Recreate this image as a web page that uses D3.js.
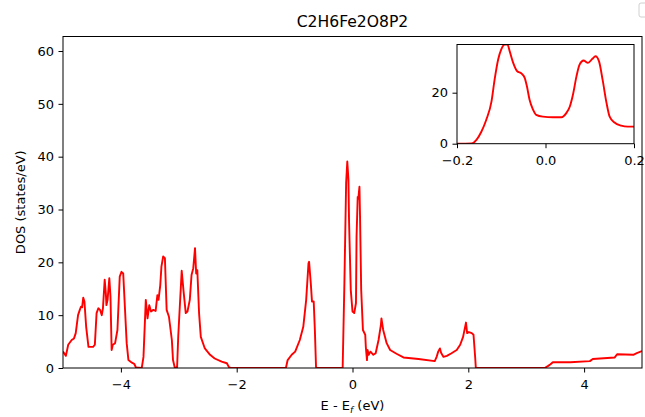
<!DOCTYPE html>
<html>
<head>
<meta charset="utf-8">
<script src="https://cdn.jsdelivr.net/npm/d3@7"></script>
<style>
    body { margin: 0; background: #fff; }
    svg { font-family: "DejaVu Sans", sans-serif; }
    .tick line { stroke: #000; }
    .domain { stroke: #000; }
</style>
</head>
<body>
<svg id="canvas"></svg>
<script>
// 全体DOS
const energy = [-5.00, -4.95, -4.91, -4.85, -4.81, -4.78, -4.74, -4.71, -4.69, -4.67, -4.65, -4.63, -4.60, -4.56, -4.48,
    -4.45, -4.42, -4.39, -4.36, -4.33, -4.31, -4.28, -4.26, -4.25, -4.23, -4.20, -4.18, -4.16, -4.14, -4.10,
    -4.06, -4.02, -3.99, -3.96, -3.94, -3.90, -3.87, -3.81, -3.77, -3.74, -3.64, -3.61, -3.57, -3.54, -3.51,
    -3.48, -3.44, -3.40, -3.37, -3.35, -3.32, -3.30, -3.27, -3.24, -3.21, -3.17, -3.12, -3.10, -3.07, -3.03,
    -3.01, -2.95, -2.92, -2.88, -2.85, -2.81, -2.78, -2.75, -2.72, -2.70, -2.68, -2.65, -2.62, -2.55, -2.46,
    -2.38, -2.26, -2.17, -2.13, -2.10, -1.15, -1.12, -1.05, -0.99, -0.91, -0.85, -0.80, -0.76, -0.75, -0.72,
    -0.70, -0.67, -0.65, -0.63, -0.62, -0.17, -0.14, -0.11, -0.09, -0.07, -0.06, -0.03, 0.00, 0.03, 0.06,
    0.07, 0.09, 0.10, 0.12, 0.13, 0.15, 0.18, 0.22, 0.23, 0.25, 0.26, 0.28, 0.31, 0.36, 0.40,
    0.45, 0.49, 0.50, 0.53, 0.59, 0.65, 0.76, 0.88, 1.14, 1.42, 1.45, 1.48, 1.51, 1.53, 1.57,
    1.63, 1.71, 1.80, 1.86, 1.91, 1.96, 1.98, 2.01, 2.06, 2.09, 2.12, 2.13, 3.32, 3.38, 3.42,
    3.46, 3.76, 4.10, 4.15, 4.53, 4.57, 4.85, 4.91, 5.00];
const dos = [3.1, 2.3, 4.4, 5.3, 5.6, 6.6, 10.0, 11.0, 11.6, 11.5, 13.3, 12.6, 7.8, 4.0, 4.0,
    4.4, 10.4, 11.3, 11.0, 10.0, 11.3, 16.7, 14.1, 11.9, 12.9, 17.0, 13.5, 3.4, 4.4, 4.7,
    7.2, 17.3, 18.2, 17.9, 13.5, 4.7, 1.5, 1.0, 0.8, 0.1, 0, 2.1, 12.9, 9.4, 11.9,
    10.7, 11.0, 10.8, 13.8, 12.9, 15.7, 19.2, 21.1, 20.8, 11.0, 9.7, 5.3, 1.5, 0.1, 0,
    5.9, 18.4, 14.8, 10.4, 10.7, 12.9, 17.6, 18.9, 22.7, 17.9, 18.5, 10.4, 5.9, 3.7, 2.5,
    1.8, 1.2, 0.9, 0.1, 0, 0, 1.5, 2.5, 3.1, 5.3, 7.8, 12.9, 19.8, 20.1, 16.0,
    12.6, 12.6, 7.2, 0.2, 0, 0, 16.0, 35.0, 39.1, 35.6, 28.0, 14.8, 10.7, 10.4, 12.3,
    24.9, 32.4, 32.0, 34.3, 28.7, 14.8, 7.2, 6.3, 4.0, 1.5, 3.4, 2.5, 3.1, 2.5, 2.8,
    5.3, 8.1, 9.4, 7.2, 4.7, 3.4, 2.7, 2.0, 1.7, 1.3, 2.0, 3.1, 3.7, 2.9, 2.1,
    2.3, 2.8, 3.4, 4.4, 5.9, 8.6, 6.6, 6.8, 6.6, 6.3, 1.8, 0, 0, 0.4, 0.7,
    1.1, 1.1, 1.3, 1.7, 2.0, 2.6, 2.5, 2.8, 3.2];

// フェルミ準位付近の拡大
const insetEnergy = [-0.200, -0.167, -0.156, -0.145, -0.134, -0.122, -0.115, -0.107, -0.100, -0.092, -0.086,
    -0.081, -0.073, -0.064, -0.054, -0.047, -0.042, -0.036, -0.028, -0.021, -0.006, 0.017, 0.036,
    0.047, 0.055, 0.062, 0.070, 0.077, 0.086, 0.096, 0.106, 0.113, 0.121, 0.129, 0.138, 0.145,
    0.156, 0.171, 0.186, 0.200];
const insetDos = [0, 0.1, 1.5, 4.7, 9.3, 16.6, 25.1, 33.0, 37.0, 38.9, 38.9,
    36.3, 31.7, 28.4, 27.5, 25.8, 22.5, 17.2, 13.3, 11.3, 10.6, 10.4, 10.4,
    12.0, 14.6, 19.2, 26.4, 31.0, 32.6, 31.7, 33.3, 34.3, 32.3, 25.1, 15.9, 10.6,
    8.3, 7.1, 6.7, 6.7];

const xTicks = [-4, -2, 0, 2, 4];
const yTicks = [0, 10, 20, 30, 40, 50, 60];
const insetXTicks = [-0.2, 0.0, 0.2];
const insetYTicks = [0, 20];

const width = 645;
const height = 417;
const fontSize = 13;

const svg = d3.select('#canvas')
    .attr('width', width)
    .attr('height', height);

const minus = s => s.replace('-', '\u2212');

// 本体の軸
const plotLeft = 63, plotRight = 642, plotTop = 36.5, plotBottom = 368;
const x = d3.scaleLinear().domain([-5, 5]).range([plotLeft, plotRight]);
const y = d3.scaleLinear().domain([0, 62.75]).range([plotBottom, plotTop]);

const line = (sx, sy) => d3.line()
    .x(d => sx(d[0]))
    .y(d => sy(d[1]));

svg.append('clipPath').attr('id', 'clip-main')
    .append('rect')
    .attr('x', plotLeft).attr('y', plotTop)
    .attr('width', plotRight - plotLeft).attr('height', plotBottom - plotTop);

svg.append('path')
    .datum(d3.zip(energy, dos))
    .attr('clip-path', 'url(#clip-main)')
    .attr('fill', 'none')
    .attr('stroke', '#ff0000')
    .attr('stroke-width', 1.9)
    .attr('stroke-linejoin', 'round')
    .attr('d', line(x, y));

const styleAxis = g => {
    g.selectAll('text').attr('font-size', fontSize).attr('fill', '#000').attr('font-family', '"DejaVu Sans"');
    g.selectAll('.tick line').attr('stroke-width', 1);
    g.select('.domain').remove();
};

svg.append('g')
    .attr('transform', `translate(0,${plotBottom})`)
    .call(d3.axisBottom(x).tickValues(xTicks).tickSize(4.5).tickPadding(7.2)
        .tickFormat(d => minus(d3.format('d')(d))))
    .call(styleAxis);

svg.append('g')
    .attr('transform', `translate(${plotLeft},0)`)
    .call(d3.axisLeft(y).tickValues(yTicks).tickSize(4.5).tickPadding(4.5).tickFormat(d3.format('d')))
    .call(styleAxis);

svg.append('rect')
    .attr('x', plotLeft).attr('y', plotTop)
    .attr('width', plotRight - plotLeft).attr('height', plotBottom - plotTop)
    .attr('fill', 'none')
    .attr('stroke', '#000')
    .attr('stroke-width', 1);

// タイトルとラベル
svg.append('text')
    .attr('x', (plotLeft + plotRight) / 2)
    .attr('y', 27)
    .attr('text-anchor', 'middle')
    .attr('font-size', 15.6)
    .text('C2H6Fe2O8P2');

const xLabel = svg.append('text')
    .attr('x', (plotLeft + plotRight) / 2)
    .attr('y', 410)
    .attr('text-anchor', 'middle')
    .attr('font-size', fontSize);
xLabel.append('tspan').text('E - E');
xLabel.append('tspan')
    .attr('font-size', fontSize * 0.7)
    .attr('font-style', 'italic')
    .attr('dy', 2.5)
    .text('f');
xLabel.append('tspan').attr('dy', -2.5).text(' (eV)');

svg.append('text')
    .attr('transform', `translate(25,${(plotTop + plotBottom) / 2}) rotate(-90)`)
    .attr('text-anchor', 'middle')
    .attr('font-size', fontSize)
    .text('DOS (states/eV)');

// 凡例の枠(右上、切れている)
svg.append('rect')
    .attr('x', 639).attr('y', 3)
    .attr('width', 14).attr('height', 14)
    .attr('rx', 2)
    .attr('fill', '#fff')
    .attr('stroke', '#d0d0d0')
    .attr('stroke-width', 1);

// インセット
const inLeft = 457, inRight = 634, inTop = 44.5, inBottom = 143.7;
const ix = d3.scaleLinear().domain([-0.2, 0.2]).range([inLeft, inRight]);
const iy = d3.scaleLinear().domain([0, d3.max(insetDos)]).range([inBottom, inTop]);

svg.append('rect')
    .attr('x', inLeft).attr('y', inTop)
    .attr('width', inRight - inLeft).attr('height', inBottom - inTop)
    .attr('fill', '#fff');

svg.append('clipPath').attr('id', 'clip-inset')
    .append('rect')
    .attr('x', inLeft).attr('y', inTop)
    .attr('width', inRight - inLeft).attr('height', inBottom - inTop);

svg.append('path')
    .datum(d3.zip(insetEnergy, insetDos))
    .attr('clip-path', 'url(#clip-inset)')
    .attr('fill', 'none')
    .attr('stroke', '#ff0000')
    .attr('stroke-width', 1.9)
    .attr('stroke-linejoin', 'round')
    .attr('d', line(ix, iy).curve(d3.curveMonotoneX));

svg.append('g')
    .attr('transform', `translate(0,${inBottom})`)
    .call(d3.axisBottom(ix).tickValues(insetXTicks).tickSize(4.5).tickPadding(7.2)
        .tickFormat(d => minus(d3.format('.1f')(d))))
    .call(styleAxis);

svg.append('g')
    .attr('transform', `translate(${inLeft},0)`)
    .call(d3.axisLeft(iy).tickValues(insetYTicks).tickSize(4.5).tickPadding(4.5).tickFormat(d3.format('d')))
    .call(styleAxis);

svg.append('rect')
    .attr('x', inLeft).attr('y', inTop)
    .attr('width', inRight - inLeft).attr('height', inBottom - inTop)
    .attr('fill', 'none')
    .attr('stroke', '#000')
    .attr('stroke-width', 1);
</script>
</body>
</html>
